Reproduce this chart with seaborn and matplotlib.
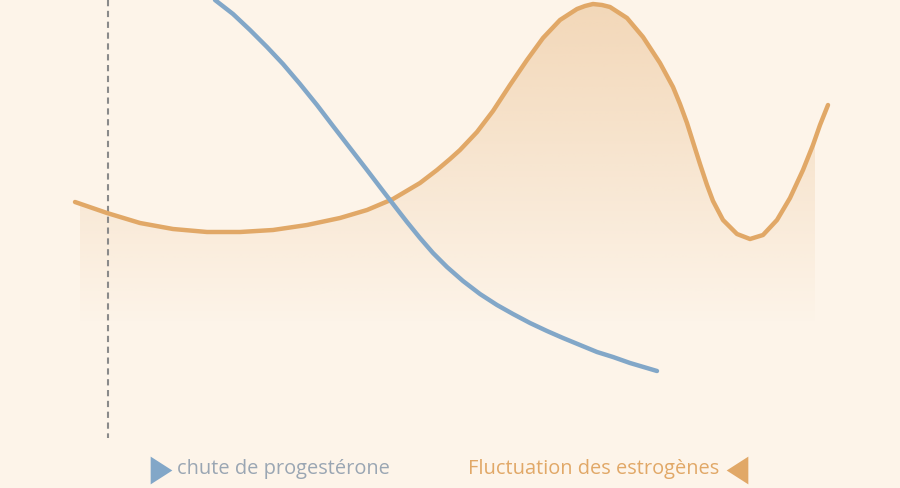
import numpy as np
import matplotlib
matplotlib.use("Agg")
import matplotlib.pyplot as plt
import seaborn as sns
import pandas as pd

sns.set_theme(style="white")
plt.rcParams['font.family'] = ['Open Sans', 'DejaVu Sans']

# ---- data (x = position along cycle, y = level, inverted axis) ----
prog_x = [215, 233, 250, 267, 283, 300, 317, 333, 350, 367, 383, 400, 407, 420, 433, 447,
          463, 480, 497, 513, 530, 547, 563, 580, 597, 613, 630, 657]
prog_y = [0, 14, 30, 47, 64, 84, 105, 126, 148, 170, 191, 213, 222, 238, 253, 267,
          281, 294, 305, 314, 323, 331, 338, 345, 352, 357, 363, 371]

estro_x = [75, 107, 140, 173, 207, 240, 273, 307, 340, 367, 393, 420, 437, 450, 460, 477,
           493, 510, 527, 543, 560, 577, 585, 593, 602, 610, 627, 643, 660, 673, 680, 687,
           693, 700, 707, 713, 723, 737, 750, 763, 777, 790, 803, 813, 820, 828]
estro_y = [202, 213, 223, 229, 232, 232, 230, 225, 218, 210, 199, 183, 170, 159, 150, 132,
           111, 85, 60, 38, 20, 9, 6, 4, 5, 7, 18, 37, 63, 87, 104, 123,
           142, 164, 185, 201, 220, 234, 239, 235, 220, 198, 170, 145, 125, 105]

fill_x0, fill_x1, fill_bottom = 80, 815, 325
marker_x = 108
marker_y_end = 438

legend_labels = ["chute de progestérone", "Fluctuation des estrogènes"]

BG = "#FDF4E9"
BLUE = "#82A7C8"
ORANGE = "#E1A867"
BLUE_TEXT = "#9AA6B3"

prog = pd.DataFrame({"x": prog_x, "y": prog_y})
estro = pd.DataFrame({"x": estro_x, "y": estro_y})

fig = plt.figure(figsize=(9, 4.88), dpi=100, facecolor=BG)
ax = fig.add_axes([0, 0, 1, 1])
ax.set_facecolor(BG)
ax.axis("off")

# gradient fill under estrogen curve
ex = np.array(estro_x, float)
ey = np.array(estro_y, float)
mask = (ex > fill_x0) & (ex < fill_x1)
poly_x = np.concatenate([[fill_x0], ex[mask], [fill_x1]])
poly_y = np.concatenate([[np.interp(fill_x0, ex, ey)], ey[mask], [np.interp(fill_x1, ex, ey)]])
fb = ax.fill_between(poly_x, poly_y, fill_bottom, color="none", lw=0)
rgb = matplotlib.colors.to_rgb(ORANGE)
ny = 300
alpha = np.linspace(0.38, 0.0, ny)
grad = np.zeros((ny, 2, 4))
grad[..., 0], grad[..., 1], grad[..., 2] = rgb
grad[..., 3] = alpha[:, None]
im = ax.imshow(grad, extent=[fill_x0, fill_x1, fill_bottom, 0], aspect="auto",
               origin="upper", interpolation="bilinear", zorder=1)
im.set_clip_path(fb.get_paths()[0], transform=ax.transData)

# dashed marker line
ax.plot([marker_x, marker_x], [0, marker_y_end], color="#8A8A8A", lw=1.5,
        dashes=(3, 2.2), zorder=2)

sns.lineplot(data=estro, x="x", y="y", ax=ax, color=ORANGE, lw=3.2, sort=False,
             solid_capstyle="round", solid_joinstyle="round", zorder=3)
sns.lineplot(data=prog, x="x", y="y", ax=ax, color=BLUE, lw=3.2, sort=False,
             solid_capstyle="round", solid_joinstyle="round", zorder=4)

# legend
right_tri = [(-0.78, -1), (-0.78, 1), (0.78, 0)]
left_tri = [(0.78, -1), (0.78, 1), (-0.78, 0)]
ax.plot([161], [470], marker=right_tri, ms=20, color=BLUE, mec="none", ls="none", clip_on=False)
ax.plot([737], [470], marker=left_tri, ms=20, color=ORANGE, mec="none", ls="none", clip_on=False)
ax.text(177, 469, legend_labels[0], color=BLUE_TEXT, fontsize=14.4, va="center", ha="left")
ax.text(719, 469, legend_labels[1], color=ORANGE, fontsize=14.4, va="center", ha="right")

ax.set_xlim(0, 900)
ax.set_ylim(488, 0)
ax.set_xlabel("")
ax.set_ylabel("")

fig.savefig("out.png", dpi=100, facecolor=BG)
